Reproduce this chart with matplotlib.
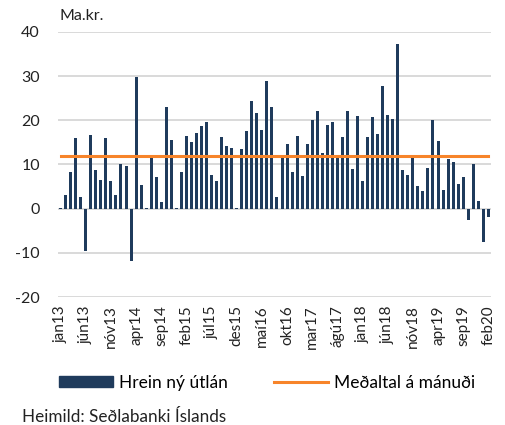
import numpy as np
import matplotlib
matplotlib.use("Agg")
import matplotlib.pyplot as plt
from matplotlib.patches import Patch
from matplotlib.lines import Line2D

plt.rcParams['font.family'] = ['Lato', 'DejaVu Sans']
plt.rcParams['axes.unicode_minus'] = False

# monthly net new lending, jan13 - feb20 (Ma.kr.)
months = ['jan', 'feb', 'mar', 'apr', 'maí', 'jún', 'júl', 'ágú', 'sep', 'okt', 'nóv', 'des']
years = ['13', '14', '15', '16', '17', '18', '19', '20']
categories = [m + y for y in years for m in months][:86]

values = [0.1, 3.0, 8.4, 15.9, 2.7, -9.5, 16.7, 8.8, 6.5, 16.0,
          6.3, 3.2, 10.2, 9.6, -11.8, 29.7, 5.3, 0.2, 11.7, 7.1,
          1.4, 22.9, 15.6, 0.2, 8.2, 16.4, 15.1, 17.1, 18.7, 19.7,
          7.7, 6.2, 16.2, 14.2, 13.8, 0.1, 13.5, 17.6, 24.4, 21.7,
          17.9, 28.9, 22.9, 2.7, 11.7, 14.7, 8.4, 16.4, 7.5, 14.7,
          20.0, 22.0, 12.7, 18.9, 19.7, 11.4, 16.2, 22.0, 8.9, 21.0,
          6.3, 16.2, 20.8, 16.8, 27.8, 21.3, 20.2, 37.2, 8.8, 7.6,
          11.6, 5.1, 4.1, 9.2, 20.1, 15.3, 4.3, 11.3, 10.5, 5.6,
          7.1, -2.6, 10.2, 1.8, -7.5, -1.9]
average = 11.9

navy = '#1F3B5C'
orange = '#F7842A'

fig = plt.figure(figsize=(5.05, 4.25), dpi=100)
ax = fig.add_axes([0.115, 0.301, 0.857, 0.624])

x = np.arange(len(values))
ax.bar(x, values, width=0.6, color=navy, zorder=2)
ax.plot(x, [average] * len(x), color=orange, lw=2.2, zorder=3)

ax.set_xlim(-0.5, len(values) - 0.5)
ax.set_ylim(-20, 40)
ax.set_yticks(range(-20, 41, 10))
ax.yaxis.grid(True, color='#D9D9D9', lw=1.4, zorder=0)
ax.set_xticks(x[::5])
ax.set_xticklabels(categories[::5], rotation=90)
ax.tick_params(axis='both', length=0, labelsize=11.5, colors='#222222')
ax.tick_params(axis='x', labelsize=11, pad=6)
ax.tick_params(axis='y', pad=13)
for s in ax.spines.values():
    s.set_visible(False)

fig.text(0.118, 0.962, 'Ma.kr.', fontsize=11.5, color='#222222', va='center')

handles = [Patch(color=navy), Line2D([], [], color=orange, lw=2.2)]
fig.legend(handles, ['Hrein ný útlán', 'Meðaltal á mánuði'], loc='center',
           bbox_to_anchor=(0.529, 0.099), ncol=2, frameon=False, fontsize=12.5,
           handlelength=3.1, handleheight=0.6, columnspacing=2.7, handletextpad=0.35)

fig.text(0.043, 0.0, 'Heimild: Seðlabanki Íslands', fontsize=12.3, color='#222222', va='bottom')

fig.savefig('out.png', dpi=100)
